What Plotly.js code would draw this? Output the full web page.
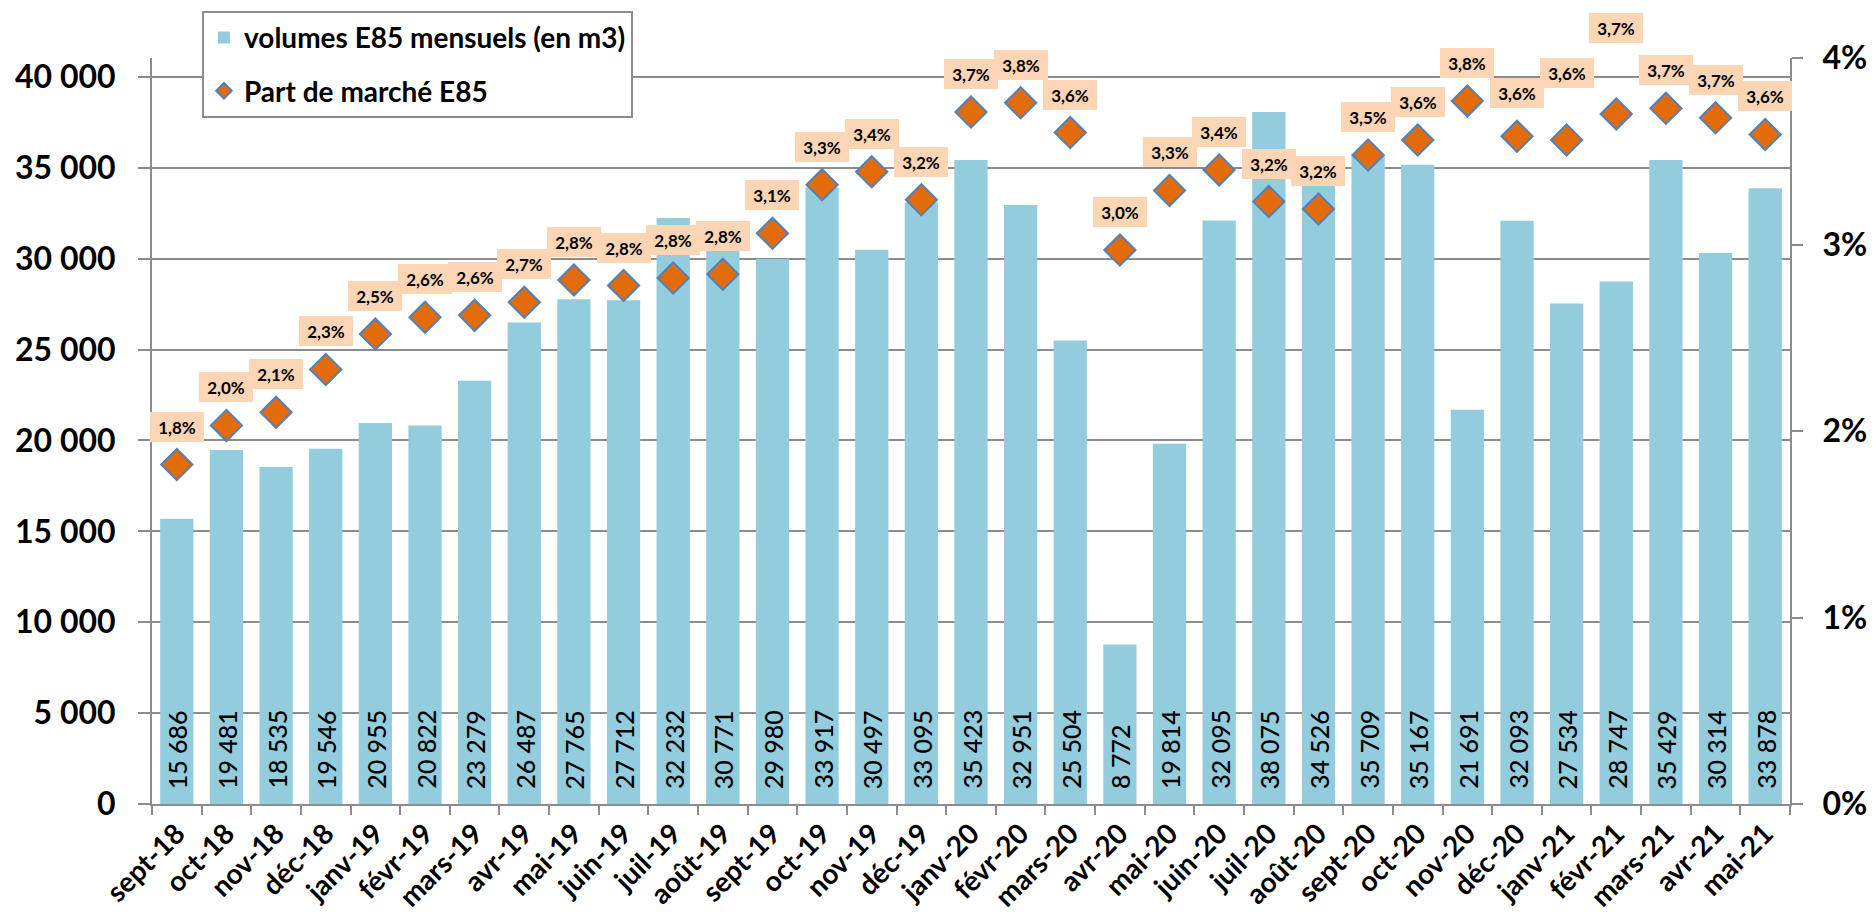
<!DOCTYPE html>
<html><head><meta charset="utf-8">
<script src="https://cdn.plot.ly/plotly-3.0.1.min.js"></script>
<style>html,body{margin:0;padding:0;background:#fff}#chart{width:1875px;height:912px}</style>
</head><body><div id="chart"></div>
<script>
const months = ['sept-18','oct-18','nov-18','déc-18','janv-19','févr-19','mars-19','avr-19','mai-19','juin-19','juil-19','août-19','sept-19','oct-19','nov-19','déc-19','janv-20','févr-20','mars-20','avr-20','mai-20','juin-20','juil-20','août-20','sept-20','oct-20','nov-20','déc-20','janv-21','févr-21','mars-21','avr-21','mai-21'];
const volumes = [15686,19481,18535,19546,20955,20822,23279,26487,27765,27712,32232,30771,29980,33917,30497,33095,35423,32951,25504,8772,19814,32095,38075,34526,35709,35167,21691,32093,27534,28747,35429,30314,33878];
const marketShare = [1.82,2.03,2.10,2.33,2.52,2.61,2.62,2.69,2.81,2.78,2.82,2.84,3.06,3.32,3.39,3.24,3.71,3.76,3.60,2.97,3.29,3.40,3.23,3.19,3.48,3.56,3.77,3.58,3.56,3.70,3.73,3.68,3.59];
const rightTicks = [0,1,2,3,4];
const leftTicks = [0,5000,10000,15000,20000,25000,30000,35000,40000];

// label placement settings (not data)
const defaultLabelLift = 38;
const labelLiftOverrides = {'déc-20': 43, 'janv-21': 67, 'févr-21': 86};

function fmtThousands(v){ return String(v).replace(/\B(?=(\d{3})+(?!\d))/g, ' '); }
function fmtPct(v){ return v.toFixed(1).replace('.', ',') + '%'; }

const FONT = 'Lato, "Open Sans", sans-serif';
const GRID = '#8c8c8c';

const bars = {
  type: 'bar', x: months, y: volumes, name: 'volumes E85 mensuels (en m3)',
  marker: {color: '#93CDDD'}, yaxis: 'y', legendgroup: 'a'
};
const share = {
  type: 'scatter', mode: 'markers', x: months, y: marketShare, name: 'Part de marché E85',
  yaxis: 'y2', legendgroup: 'b', cliponaxis: false,
  marker: {symbol: 'diamond', size: 24, color: '#E36C0A', line: {color: '#4F81BD', width: 2}}
};

const annotations = [];
months.forEach((m, i) => {
  annotations.push({
    x: m, y: 0, xref: 'x', yref: 'y', text: fmtThousands(volumes[i]),
    textangle: -90, showarrow: false, yanchor: 'bottom', xanchor: 'center', yshift: 14,
    font: {family: FONT, size: 25, color: '#000', weight: 500}, borderpad: 0
  });
  annotations.push({
    x: m, y: marketShare[i], xref: 'x', yref: 'y2', text: fmtPct(marketShare[i]),
    showarrow: false, yanchor: 'middle', xanchor: 'center',
    yshift: (labelLiftOverrides[m] !== undefined ? labelLiftOverrides[m] : defaultLabelLift),
    bgcolor: '#FCD5B4', borderpad: 5, borderwidth: 0, width: 44, height: 20,
    font: {family: FONT, size: 17, color: '#000', weight: 'bold'}
  });
});

const layout = {
  width: 1875, height: 912,
  margin: {l: 152, r: 85, t: 57, b: 108},
  paper_bgcolor: '#fff', plot_bgcolor: '#fff',
  separators: ', ',
  bargap: 0.33,
  font: {family: FONT, color: '#000'},
  showlegend: true,
  legend: {
    x: 0.0305, y: 1.062, xanchor: 'left', yanchor: 'top',
    bgcolor: '#fff', bordercolor: GRID, borderwidth: 2,
    font: {family: FONT, size: 28, color: '#000', weight: 'bold'},
    traceorder: 'grouped', tracegroupgap: 14, itemsizing: 'constant', itemwidth: 30
  },
  xaxis: {
    type: 'category', range: [-0.5, months.length - 0.5], autorange: false,
    showline: true, linecolor: GRID, linewidth: 2,
    ticks: 'outside', tickson: 'boundaries', ticklen: 9, tickcolor: GRID, tickwidth: 2,
    tickangle: -45, tickfont: {family: FONT, size: 28, color: '#000', weight: 'bold'},
    showgrid: false, zeroline: false
  },
  yaxis: {
    range: [0, 41040], autorange: false, tickvals: leftTicks, tickformat: ',d',
    showgrid: true, gridcolor: GRID, gridwidth: 2,
    showline: true, linecolor: GRID, linewidth: 2,
    ticks: 'outside', ticklen: 12, tickcolor: GRID, tickwidth: 2,
    tickfont: {family: FONT, size: 32, color: '#000', weight: 'bold'},
    ticklabelstandoff: 16, zeroline: false
  },
  yaxis2: {
    overlaying: 'y', side: 'right', range: [0, 4], autorange: false,
    tickvals: rightTicks, ticktext: rightTicks.map(v => v + '%'),
    showgrid: false, showline: true, linecolor: GRID, linewidth: 2,
    ticks: 'outside', ticklen: 11, tickcolor: GRID, tickwidth: 2,
    tickfont: {family: FONT, size: 32, color: '#000', weight: 'bold'},
    ticklabelstandoff: 13, zeroline: false
  },
  annotations: annotations
};

Plotly.newPlot('chart', [bars, share], layout, {displayModeBar: false, staticPlot: true});
</script>
</body></html>
